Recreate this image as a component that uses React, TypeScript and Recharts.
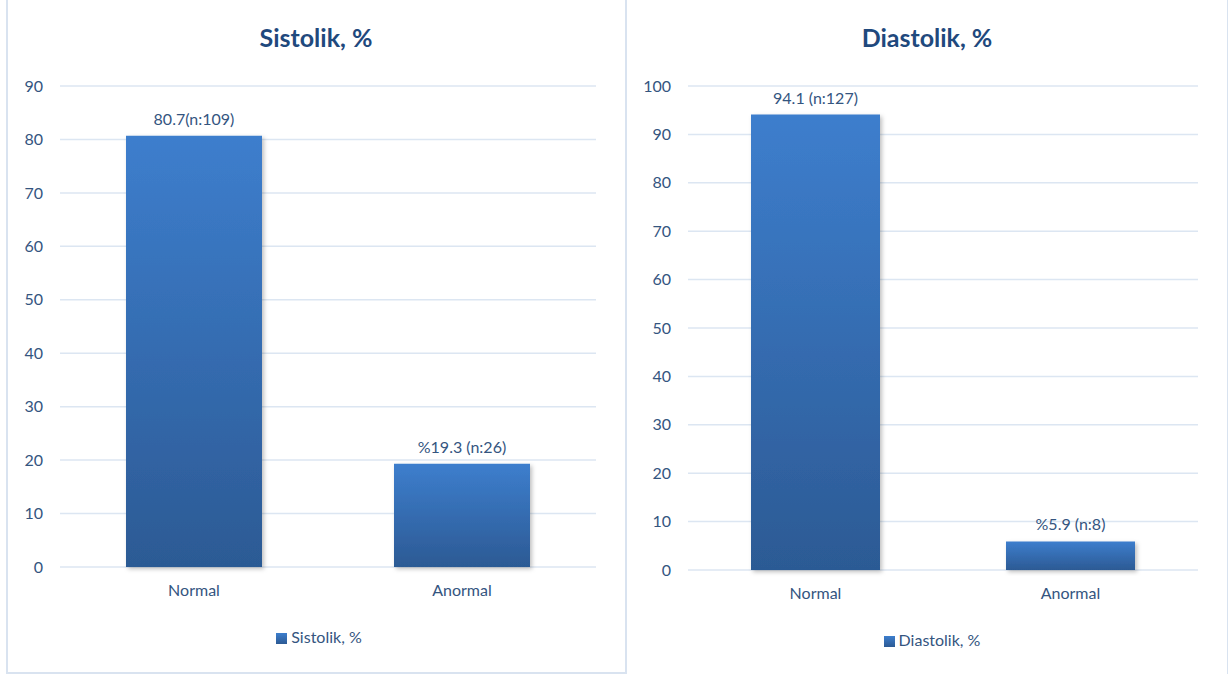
import React from 'react';
import { BarChart, Bar, XAxis, YAxis, CartesianGrid, Legend, LabelList } from 'recharts';

const categories = ['Normal', 'Anormal'];
const sistolikValues = [80.7, 19.3];
const sistolikLabels = ['80.7(n:109)', '%19.3 (n:26)'];
const diastolikValues = [94.1, 5.9];
const diastolikLabels = ['94.1 (n:127)', '%5.9 (n:8)'];
const sistolikTicks = [0, 10, 20, 30, 40, 50, 60, 70, 80, 90];
const diastolikTicks = [0, 10, 20, 30, 40, 50, 60, 70, 80, 90, 100];

const FONT = 'Lato, "Open Sans", sans-serif';
const TEXT = '#34557f';
const TITLE = '#1f497d';
const GRID = '#dce6f2';
const BORDER = '#d9e3f0';

const sistolikData = categories.map((c, i) => ({ name: c, value: sistolikValues[i], label: sistolikLabels[i] }));
const diastolikData = categories.map((c, i) => ({ name: c, value: diastolikValues[i], label: diastolikLabels[i] }));

interface PanelProps {
  id: string;
  title: string;
  data: { name: string; value: number; label: string }[];
  ticks: number[];
  left: number;
  width: number;
  plotHeight: number;
  axisWidth: number;
  barSize: number;
  titleCenter: number;
  legendShift: number;
  legendTop: number;
}

function Panel({ id, title, data, ticks, left, width, plotHeight, axisWidth, barSize, titleCenter, legendShift, legendTop }: PanelProps) {
  return (
    <div style={{ position: 'absolute', left, top: 0, width, height: 674 }}>
      <div
        style={{
          position: 'absolute',
          top: 22,
          left: titleCenter - 150,
          width: 300,
          textAlign: 'center',
          fontFamily: FONT,
          fontWeight: 700,
          fontSize: 25,
          color: TITLE,
        }}
      >
        {title}
      </div>
      <BarChart
        width={width}
        height={674}
        data={data}
        margin={{ top: 86, right: 30, left: 0, bottom: 674 - 86 - 30 - plotHeight }}
        style={{ fontFamily: FONT }}
      >
        <defs>
          <linearGradient id={`grad-${id}`} x1="0" y1="0" x2="0" y2="1">
            <stop offset="0%" stopColor="#3d7ecd" />
            <stop offset="100%" stopColor="#2c5a94" />
          </linearGradient>
          <filter id={`shadow-${id}`} x="-10%" y="-10%" width="130%" height="130%">
            <feDropShadow dx="2" dy="2" stdDeviation="2" floodColor="#000" floodOpacity="0.25" />
          </filter>
        </defs>
        <CartesianGrid vertical={false} stroke={GRID} strokeWidth={1.5} />
        <XAxis
          dataKey="name"
          axisLine={false}
          tickLine={false}
          tickMargin={12}
          height={30}
          tick={{ fontSize: 16, fill: TEXT }}
        />
        <YAxis
          domain={[0, ticks[ticks.length - 1]]}
          ticks={ticks}
          axisLine={false}
          tickLine={false}
          tickMargin={11}
          width={axisWidth}
          tick={{ fontSize: 16, fill: TEXT }}
        />
        <Legend
          verticalAlign="middle"
          align="center"
          iconType="square"
          iconSize={11}
          wrapperStyle={{ top: legendTop, left: legendShift, width, fontSize: 16 }}
          formatter={(v: string) => <span style={{ color: TEXT }}>{v}</span>}
        />
        <Bar
          dataKey="value"
          name={title}
          barSize={barSize}
          fill={`url(#grad-${id})`}
          filter={`url(#shadow-${id})`}
          isAnimationActive={false}
        >
          <LabelList dataKey="label" position="top" offset={11} style={{ fontSize: 16, fill: TEXT }} />
        </Bar>
      </BarChart>
    </div>
  );
}

export default function App() {
  return (
    <div style={{ position: 'absolute', left: 0, top: 0, width: 1228, height: 674, background: '#fff', overflow: 'hidden' }}>
      <div
        style={{
          position: 'absolute',
          left: 6,
          top: -4,
          width: 621,
          height: 678,
          border: `2px solid ${BORDER}`,
          boxSizing: 'border-box',
        }}
      />
      <div
        style={{
          position: 'absolute',
          left: 625,
          top: -4,
          width: 604,
          height: 700,
          border: `2px solid ${BORDER}`,
          boxSizing: 'border-box',
        }}
      />
      <Panel
        id="sis"
        title="Sistolik, %"
        data={sistolikData}
        ticks={sistolikTicks}
        left={0}
        width={626}
        plotHeight={481}
        axisWidth={60}
        barSize={136}
        titleCenter={316}
        legendShift={11}
        legendTop={627}
      />
      <Panel
        id="dia"
        title="Diastolik, %"
        data={diastolikData}
        ticks={diastolikTicks}
        left={626}
        width={602}
        plotHeight={484}
        axisWidth={62}
        barSize={129}
        titleCenter={301}
        legendShift={10}
        legendTop={630}
      />
    </div>
  );
}
